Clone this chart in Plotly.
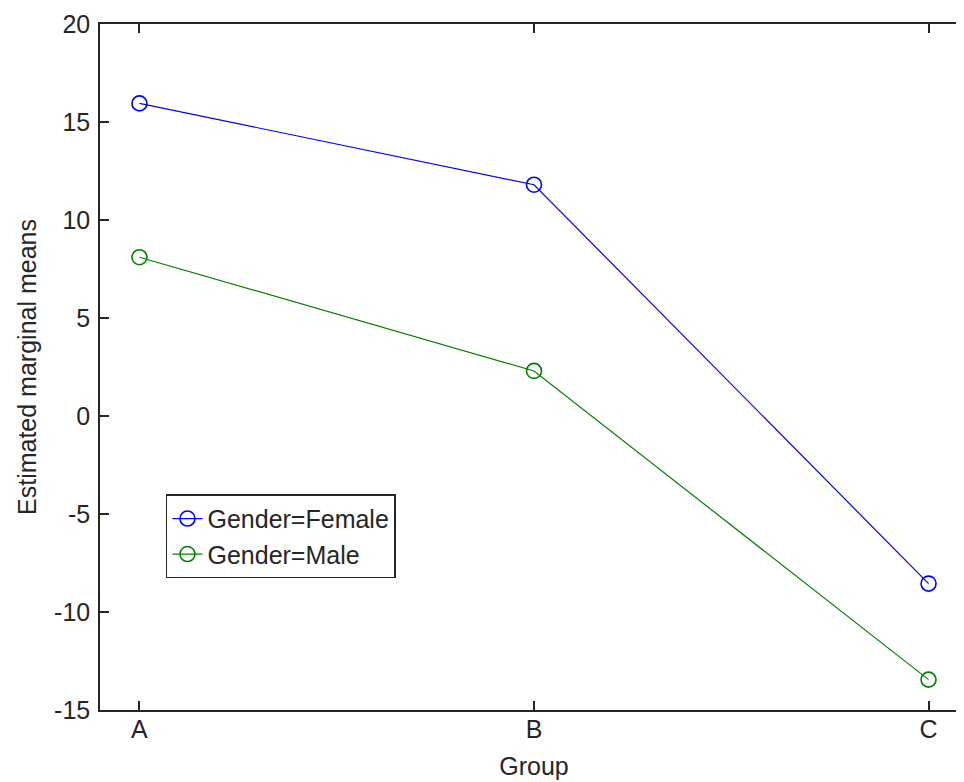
import plotly.graph_objects as go

groups = ["A", "B", "C"]
group_pos = [1, 2, 3]
female = [15.95, 11.8, -8.55]
male = [8.1, 2.3, -13.45]
series_names = ["Gender=Female", "Gender=Male"]
series_colors = ["#0000FF", "#008000"]
y_ticks = [-15, -10, -5, 0, 5, 10, 15, 20]
y_tick_labels = ["-15", "-10", "-5", "0", "5", "10", "15", "20"]

FONT = "Liberation Sans, Arial, sans-serif"
AX = "#262626"
FS = 25

fig = go.Figure()
for name, vals, col in zip(series_names, [female, male], series_colors):
    fig.add_trace(go.Scatter(
        x=group_pos, y=vals, name=name, mode="lines+markers",
        line=dict(color=col, width=1.2),
        marker=dict(symbol="circle-open", size=15, color=col, line=dict(width=1.6, color=col)),
    ))

fig.update_layout(
    width=964, height=782,
    margin=dict(l=92, r=4, t=16, b=80, autoexpand=False),
    paper_bgcolor="white", plot_bgcolor="white",
    font=dict(family=FONT, size=FS, color=AX),
    showlegend=True,
    legend=dict(
        x=0.076, y=0.192, xanchor="left", yanchor="bottom",
        bordercolor=AX, borderwidth=1.5, bgcolor="white",
        font=dict(family=FONT, size=FS, color=AX),
        tracegroupgap=4,
    ),
)
fig.update_xaxes(
    range=[0.9, 3.1], tickvals=group_pos, ticktext=groups,
    ticks="inside", ticklen=9, tickwidth=1.5, tickcolor=AX,
    showline=True, linecolor=AX, linewidth=1.5, mirror="ticks",
    showgrid=False, zeroline=False, automargin=False,
    title=dict(text="Group", standoff=16, font=dict(size=FS)),
    tickfont=dict(size=FS), ticklabelstandoff=-4,
)
fig.update_yaxes(
    range=[-15, 20], tickvals=y_ticks, ticktext=y_tick_labels,
    ticks="inside", ticklen=9, tickwidth=1.5, tickcolor=AX,
    showline=True, linecolor=AX, linewidth=1.5, mirror="ticks",
    showgrid=False, zeroline=False, automargin=False,
    title=dict(text="Estimated marginal means", standoff=10, font=dict(size=FS)),
    tickfont=dict(size=FS), ticklabelstandoff=3,
)

fig.write_html("out.html")
